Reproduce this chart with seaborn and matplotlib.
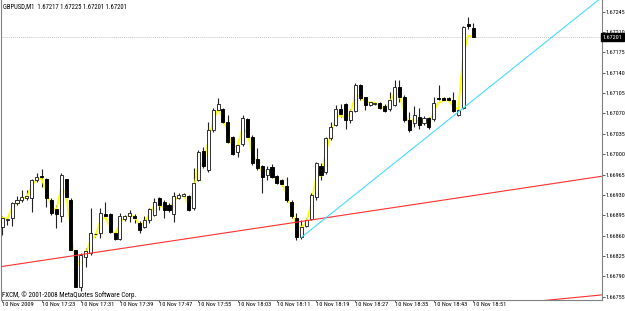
import numpy as np
import pandas as pd
import matplotlib
matplotlib.use("Agg")
import matplotlib.pyplot as plt
import seaborn as sns

# ---------------- data ----------------
symbol = "GBPUSD,M1"
first_bar_time = "2009-11-10 17:15"

opens = [1.66874, 1.66886, 1.66891, 1.66916, 1.66922, 1.66924, 1.66924, 1.66956, 1.66962, 1.66957,
         1.66921, 1.66905, 1.66894, 1.66957, 1.66922, 1.66835, 1.66772, 1.66824, 1.66830, 1.66862,
         1.66864, 1.66897, 1.66897, 1.66865, 1.66854, 1.66888, 1.66893, 1.66894, 1.66882, 1.66875,
         1.66886, 1.66895, 1.66924, 1.66918, 1.66913, 1.66898, 1.66924, 1.66928, 1.66928, 1.66907,
         1.66956, 1.67005, 1.66973, 1.67042, 1.67076, 1.67078, 1.67056, 1.67029, 1.67004, 1.67017,
         1.67060, 1.67030, 1.66992, 1.66980, 1.66965, 1.66978, 1.66962, 1.66955, 1.66945, 1.66918,
         1.66890, 1.66858, 1.66876, 1.66889, 1.66926, 1.66979, 1.66970, 1.67027, 1.67051, 1.67077,
         1.67087, 1.67058, 1.67075, 1.67119, 1.67098, 1.67085, 1.67087, 1.67088, 1.67083, 1.67077,
         1.67085, 1.67116, 1.67099, 1.67059, 1.67053, 1.67064, 1.67053, 1.67062, 1.67060, 1.67097,
         1.67096, 1.67096, 1.67094, 1.67067, 1.67080, 1.67223, 1.67217]
highs = [1.66893, 1.66892, 1.66918, 1.66928, 1.66938, 1.66938, 1.66958, 1.66968, 1.66974, 1.66959,
         1.66924, 1.66913, 1.66967, 1.66958, 1.66924, 1.66836, 1.66830, 1.66838, 1.66907, 1.66865,
         1.66907, 1.66918, 1.66899, 1.66866, 1.66899, 1.66895, 1.66904, 1.66897, 1.66885, 1.66893,
         1.66907, 1.66924, 1.66926, 1.66921, 1.66916, 1.66935, 1.66933, 1.66934, 1.66930, 1.66976,
         1.67007, 1.67013, 1.67056, 1.67079, 1.67096, 1.67080, 1.67067, 1.67031, 1.67019, 1.67067,
         1.67062, 1.67033, 1.67010, 1.66981, 1.66980, 1.66983, 1.66964, 1.66957, 1.66961, 1.66921,
         1.66899, 1.66887, 1.66890, 1.66933, 1.66987, 1.66985, 1.67030, 1.67056, 1.67085, 1.67087,
         1.67088, 1.67077, 1.67122, 1.67120, 1.67099, 1.67090, 1.67089, 1.67090, 1.67087, 1.67107,
         1.67127, 1.67127, 1.67102, 1.67073, 1.67082, 1.67079, 1.67066, 1.67064, 1.67098, 1.67119,
         1.67098, 1.67098, 1.67107, 1.67082, 1.67221, 1.67236, 1.67225]
lows = [1.66861, 1.66878, 1.66876, 1.66913, 1.66918, 1.66921, 1.66901, 1.66953, 1.66944, 1.66910,
        1.66895, 1.66873, 1.66884, 1.66921, 1.66835, 1.66771, 1.66764, 1.66806, 1.66827, 1.66858,
        1.66856, 1.66893, 1.66864, 1.66852, 1.66852, 1.66885, 1.66884, 1.66881, 1.66865, 1.66873,
        1.66882, 1.66894, 1.66904, 1.66890, 1.66901, 1.66884, 1.66923, 1.66926, 1.66902, 1.66904,
        1.66954, 1.66976, 1.66970, 1.67039, 1.67074, 1.67054, 1.67020, 1.66998, 1.66995, 1.67014,
        1.67029, 1.66981, 1.66973, 1.66934, 1.66956, 1.66959, 1.66948, 1.66946, 1.66918, 1.66890,
        1.66852, 1.66855, 1.66874, 1.66886, 1.66921, 1.66956, 1.66966, 1.67024, 1.67048, 1.67064,
        1.67044, 1.67053, 1.67073, 1.67093, 1.67076, 1.67083, 1.67085, 1.67077, 1.67073, 1.67075,
        1.67082, 1.67090, 1.67056, 1.67039, 1.67047, 1.67044, 1.67050, 1.67044, 1.67057, 1.67093,
        1.67093, 1.67091, 1.67073, 1.67065, 1.67078, 1.67216, 1.67201]
closes = [1.66891, 1.66888, 1.66916, 1.66922, 1.66927, 1.66928, 1.66956, 1.66960, 1.66960, 1.66924,
          1.66899, 1.66897, 1.66965, 1.66926, 1.66836, 1.66772, 1.66827, 1.66833, 1.66864, 1.66863,
          1.66899, 1.66894, 1.66867, 1.66854, 1.66894, 1.66893, 1.66899, 1.66890, 1.66870, 1.66886,
          1.66905, 1.66918, 1.66913, 1.66904, 1.66904, 1.66928, 1.66930, 1.66931, 1.66904, 1.66950,
          1.67004, 1.66980, 1.67042, 1.67076, 1.67086, 1.67056, 1.67021, 1.67000, 1.67016, 1.67062,
          1.67030, 1.66985, 1.66977, 1.66960, 1.66974, 1.66961, 1.66950, 1.66949, 1.66921, 1.66893,
          1.66858, 1.66875, 1.66887, 1.66930, 1.66984, 1.66964, 1.67027, 1.67047, 1.67077, 1.67069,
          1.67059, 1.67075, 1.67119, 1.67096, 1.67085, 1.67089, 1.67088, 1.67079, 1.67075, 1.67093,
          1.67116, 1.67098, 1.67059, 1.67042, 1.67067, 1.67050, 1.67062, 1.67046, 1.67088, 1.67095,
          1.67094, 1.67093, 1.67075, 1.67076, 1.67218, 1.67220, 1.67201]

price_ticks = [1.66755, 1.66790, 1.66825, 1.66860, 1.66895, 1.66930, 1.66965, 1.67000,
               1.67035, 1.67070, 1.67105, 1.67140, 1.67175, 1.67210, 1.67245]
time_tick_bars = [0, 8, 16, 24, 32, 40, 48, 56, 64, 72, 80, 88, 96]
time_tick_labels = ["10 Nov 2009", "10 Nov 17:23", "10 Nov 17:31", "10 Nov 17:39", "10 Nov 17:47",
                    "10 Nov 17:55", "10 Nov 18:03", "10 Nov 18:11", "10 Nov 18:19", "10 Nov 18:27",
                    "10 Nov 18:35", "10 Nov 18:43", "10 Nov 18:51"]

red_trend_bars = [0, 122.2]
red_trend_prices = [1.66807, 1.66962]
red_trend2_bars = [110, 122.2]
red_trend2_prices = [1.66748, 1.66758]
cyan_trend_bars = [61, 122]
cyan_trend_prices = [1.66857, 1.67268]
bid_price = 1.67201
ema_span = 2
copyright_text = "FXCM, \u00a9 2001-2008 MetaQuotes Software Corp."

# ---------------- figure ----------------
sns.set_theme(style="white")
plt.rcParams['font.family'] = ['Liberation Sans Narrow', 'Roboto Condensed',
                               'DejaVu Sans Condensed', 'DejaVu Sans']
W, H = 625, 311
fig = plt.figure(figsize=(W / 100, H / 100), dpi=100)
fig.patch.set_facecolor('white')
renderer = fig.canvas.get_renderer()


def fit_size(sample, target_px):
    t = fig.text(0, 0, sample, fontsize=10)
    w = t.get_window_extent(renderer).width
    t.remove()
    return 10 * target_px / w


fs_price = fit_size("1.67245", 19.5)
fs_time = fit_size("10 Nov 17:23", 33.0)
fs_head = fit_size("GBPUSD,M1  1.67217 1.67225 1.67201 1.67201", 124.0)
fs_copy = fit_size(copyright_text, 134.0)

ax = fig.add_axes([1.5 / W, 11 / H, 600 / W, 300 / H])
ax.set_facecolor('white')

o = np.array(opens); h = np.array(highs); l = np.array(lows); c = np.array(closes)
idx = np.arange(len(o))
up = c >= o

ax.vlines(idx, l, h, color='#222222', lw=0.8, zorder=2)

ema = pd.Series(closes).ewm(span=ema_span, adjust=False).mean()
df_ema = pd.DataFrame({'bar': idx, 'ema': ema})
sns.lineplot(data=df_ema, x='bar', y='ema', color='#ffff00', lw=1.3, ax=ax, zorder=2.5)

ax.bar(idx[up], (c - o)[up], bottom=o[up], width=0.62, color='white',
       edgecolor='#222222', linewidth=0.65, zorder=3)
ax.bar(idx[~up], (c - o)[~up], bottom=o[~up], width=0.62, color='black',
       edgecolor='black', linewidth=0.65, zorder=3)

sns.lineplot(x=red_trend_bars, y=red_trend_prices, color='#ff3030', lw=0.8, ax=ax, zorder=4)
sns.lineplot(x=red_trend2_bars, y=red_trend2_prices, color='#ff3030', lw=0.8, ax=ax, zorder=4)
sns.lineplot(x=cyan_trend_bars, y=cyan_trend_prices, color='#44dcff', lw=0.8, ax=ax, zorder=4)

ax.axhline(bid_price, color='#c4c4c4', lw=0.7, ls=(0, (1, 1)), zorder=1)

ax.set_xlim(-0.16, 122.2)
ax.set_ylim(1.667493, 1.672651)
ax.set_xlabel('')
ax.set_ylabel('')

ax.yaxis.tick_right()
ax.set_yticks(price_ticks)
ax.set_yticklabels([f"{v:.5f}" for v in price_ticks])
ax.tick_params(axis='y', length=2.2, width=0.6, color='#444444', pad=0.6,
               labelsize=fs_price, labelcolor='#000000', right=True, left=False)
ax.set_xticks(time_tick_bars)
ax.set_xticklabels(time_tick_labels)
ax.tick_params(axis='x', length=1.6, width=0.6, color='#444444', pad=0.1,
               labelsize=fs_time, labelcolor='#000000', bottom=True)
for lbl in ax.get_xticklabels():
    lbl.set_ha('left')

for side in ['left', 'bottom', 'right']:
    ax.spines[side].set_color('#808080')
    ax.spines[side].set_linewidth(0.8)
ax.spines['top'].set_visible(False)

ax.text(1.0025, bid_price, f"{bid_price:.5f}", transform=ax.get_yaxis_transform(),
        ha='left', va='center', fontsize=fs_price, color='white', zorder=10, clip_on=False,
        bbox=dict(boxstyle='square,pad=0.25', fc='black', ec='black'))

header = f"{symbol}  {opens[-1]:.5f} {highs[-1]:.5f} {lows[-1]:.5f} {closes[-1]:.5f}"
fig.text(3 / W, 1 - 6.5 / H, header, ha='left', va='center', fontsize=fs_head, color='#000000')
fig.text(2.5 / W, 1 - 295 / H, copyright_text, ha='left', va='center', fontsize=fs_copy,
         color='#000000')

fig.savefig('out.png', dpi=100)
